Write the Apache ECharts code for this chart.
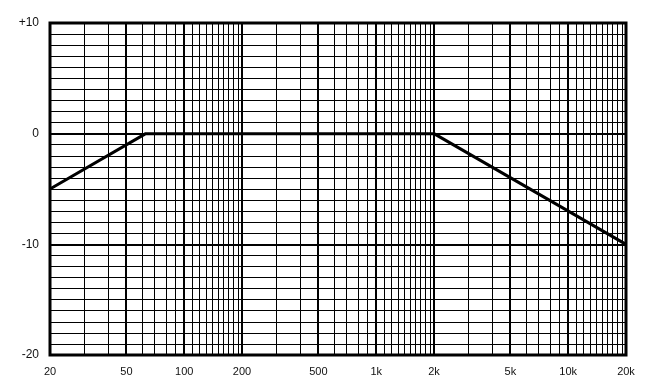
<!DOCTYPE html>
<html>
<head>
<meta charset="utf-8">
<script src="https://cdn.jsdelivr.net/npm/echarts@6/dist/echarts.min.js"></script>
<style>html,body{margin:0;padding:0;background:#fff}#c{width:653px;height:387px}</style>
</head>
<body>
<div id="c"></div>
<script>
// Response curve (frequency Hz, level dB)
var curveFreq = [20, 63, 2000, 20000];
var curveDb = [-5, 0, 0, -10];

// Vertical grid lines
var minorFreqs = [30, 40, 60, 70, 80, 90,
  110, 120, 130, 140, 150, 160, 170, 180, 190,
  300, 400, 600, 700, 800, 900,
  1100, 1200, 1300, 1400, 1500, 1600, 1700, 1800, 1900,
  3000, 4000, 6000, 7000, 8000, 9000,
  11000, 12000, 13000, 14000, 15000, 16000, 17000, 18000, 19000];
var majorFreqs = [50, 100, 200, 500, 1000, 2000, 5000, 10000];

// X tick labels
var labelFreqs = [20, 50, 100, 200, 500, 1000, 2000, 5000, 10000, 20000];
var labelTexts = ['20', '50', '100', '200', '500', '1k', '2k', '5k', '10k', '20k'];

var yMin = -20, yMax = 10;

var chart = echarts.init(document.getElementById('c'), null, {renderer: 'canvas'});

var font = '"Liberation Sans", Arial, sans-serif';

function gridSeries(freqs, width) {
  return {
    type: 'custom', silent: true, z: 3,
    data: freqs.map(function (f) { return [f]; }),
    encode: {x: 0},
    renderItem: function (params, api) {
      var top = api.coord([api.value(0), yMax]);
      var bot = api.coord([api.value(0), yMin]);
      var x = Math.round(top[0]);
      if (width % 2 === 1) x += 0.5;
      return {
        type: 'line',
        shape: {x1: x, y1: top[1], x2: x, y2: bot[1]},
        style: {stroke: '#000', lineWidth: width}
      };
    }
  };
}

chart.setOption({
  animation: false,
  grid: {left: 50, right: 27, top: 23, bottom: 32, show: true, borderColor: '#000', borderWidth: 3, backgroundColor: 'transparent', z: 5},
  xAxis: {
    type: 'log', logBase: 10, min: 20, max: 20000,
    axisLine: {show: false}, axisTick: {show: false}, axisLabel: {show: false},
    splitLine: {show: false}, minorSplitLine: {show: false}
  },
  yAxis: {
    type: 'value', min: yMin, max: yMax, interval: 10,
    axisLine: {show: false}, axisTick: {show: false},
    axisLabel: {margin: 11, color: '#111', fontSize: 12, fontFamily: font, padding: [3, 0, 0, 0],
      formatter: function (v) { return v > 0 ? '+' + v : String(v); }},
    splitLine: {show: true, lineStyle: {color: '#000', width: 2}},
    minorTick: {show: false, splitNumber: 10},
    minorSplitLine: {show: true, lineStyle: {color: '#000', width: 1}}
  },
  series: [
    gridSeries(minorFreqs, 1),
    gridSeries(majorFreqs, 2),
    {type: 'line', data: [], silent: true,
      markLine: {silent: true, symbol: ['none', 'none'], animation: false,
        data: labelFreqs.map(function (f, i) {
          return {xAxis: f, lineStyle: {color: 'rgba(0,0,0,0)', width: 0},
            label: {show: true, position: 'start', formatter: labelTexts[i], distance: 11,
              color: '#111', fontSize: 11, fontFamily: font}};
        })}},
    {type: 'line', z: 10, symbol: 'none', silent: true,
      data: curveFreq.map(function (f, i) { return [f, curveDb[i]]; }),
      lineStyle: {color: '#000', width: 3}}
  ]
});
</script>
</body>
</html>
